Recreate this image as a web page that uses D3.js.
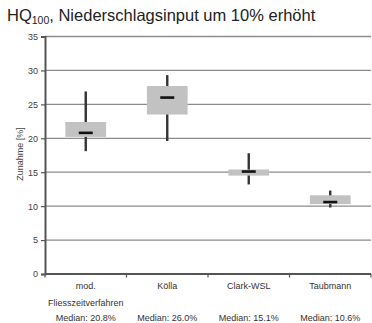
<!DOCTYPE html>
<html><head><meta charset="utf-8">
<script src="https://cdn.jsdelivr.net/npm/d3@7"></script>
<style>body{margin:0;background:#fff}svg{display:block;font-family:"Liberation Sans",Arial,sans-serif}</style>
</head><body><svg id="c" width="372" height="323"></svg>
<script>
const categories = [["mod.","Fliesszeitverfahren"],["Kölla"],["Clark-WSL"],["Taubmann"]];
const medianLabels = ["Median: 20.8%","Median: 26.0%","Median: 15.1%","Median: 10.6%"];
const whiskerHigh = [26.9, 29.3, 17.8, 12.3];
const boxHigh = [22.4, 27.7, 15.4, 11.6];
const medians = [20.8, 26.0, 15.1, 10.6];
const boxLow = [20.2, 23.5, 14.5, 10.3];
const whiskerLow = [18.1, 19.6, 13.2, 9.8];
const yTicks = [0,5,10,15,20,25,30,35];

const svg = d3.select("#c");
const L = 45, R = 371, T = 36.5, B = 274;
const x = d3.scaleBand().domain(d3.range(categories.length)).range([L, R]);
const y = d3.scaleLinear().domain([0,35]).range([B, T]);

// gridlines
svg.append("g").selectAll("line").data(yTicks.filter(d=>d>0)).join("line")
  .attr("x1", L).attr("x2", R).attr("y1", d=>y(d)).attr("y2", d=>y(d))
  .attr("stroke", "#8c8c8c").attr("stroke-width", 1.3);

// y axis
const ya = svg.append("g").attr("transform", `translate(${L},0)`)
  .call(d3.axisLeft(y).tickValues(yTicks).tickSize(4).tickPadding(3));
ya.select(".domain").attr("stroke", "#555").attr("stroke-width", 2);
ya.selectAll(".tick line").attr("stroke", "#555").attr("stroke-width", 1.2);
ya.selectAll("text").attr("font-size", 9).attr("fill", "#444").attr("font-family", "Liberation Sans, Arial, sans-serif");

// x axis
const xa = svg.append("g").attr("transform", `translate(0,${B})`);
xa.append("line").attr("x1", L).attr("x2", R).attr("y1", 0).attr("y2", 0).attr("stroke", "#555").attr("stroke-width", 2);
xa.selectAll("line.t").data(d3.range(categories.length + 1)).join("line").attr("class","t")
  .attr("x1", i => i < categories.length ? x(i) : x(categories.length-1) + x.bandwidth())
  .attr("x2", i => i < categories.length ? x(i) : x(categories.length-1) + x.bandwidth())
  .attr("y1", 0).attr("y2", 3.5).attr("stroke", "#555").attr("stroke-width", 1.2);

const cx = i => x(i) + x.bandwidth()/2;
const bw = x.bandwidth()*0.5;
const g = svg.append("g").selectAll("g").data(d3.range(categories.length)).join("g");
g.append("line").attr("x1", cx).attr("x2", cx).attr("y1", i=>y(whiskerHigh[i])).attr("y2", i=>y(whiskerLow[i]))
  .attr("stroke", "#333").attr("stroke-width", 2.4);
g.append("rect").attr("x", i=>cx(i)-bw/2).attr("width", bw)
  .attr("y", i=>y(boxHigh[i])).attr("height", i=>y(boxLow[i])-y(boxHigh[i]))
  .attr("fill", "#c2c2c2");
g.append("line").attr("x1", i=>cx(i)-7).attr("x2", i=>cx(i)+7).attr("y1", i=>y(medians[i])).attr("y2", i=>y(medians[i]))
  .attr("stroke", "#111").attr("stroke-width", 2.6);

// category labels
const lab = svg.append("g").attr("font-size", 9).attr("fill", "#333").attr("text-anchor", "middle");
categories.forEach((c, i) => {
  c.forEach((s, j) => lab.append("text").attr("x", cx(i)).attr("y", 289 + j*17).text(s));
  lab.append("text").attr("x", cx(i)).attr("y", 321).text(medianLabels[i]);
});

// y label
svg.append("text").attr("transform", "translate(23,154) rotate(-90)").attr("text-anchor", "middle")
  .attr("font-size", 9).attr("fill", "#444").text("Zunahme [%]");

// title
const t = svg.append("text").attr("x", 7).attr("y", 21).attr("font-size", 16.5).attr("fill", "#222");
t.append("tspan").text("HQ");
t.append("tspan").attr("font-size", 10.5).attr("dy", 3).text("100");
t.append("tspan").attr("dy", -3).text(", Niederschlagsinput um 10% erhöht");
</script></body></html>
